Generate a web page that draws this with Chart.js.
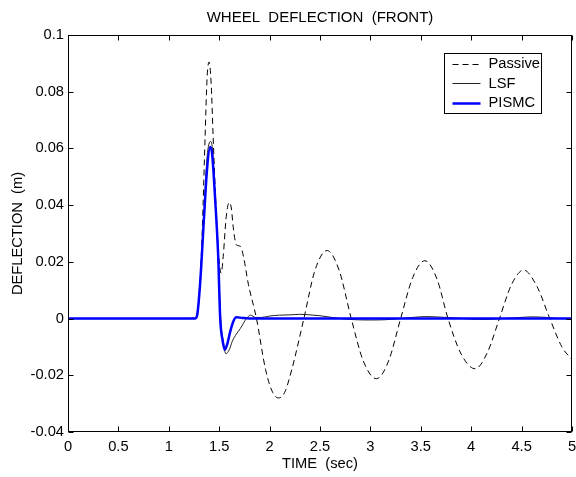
<!DOCTYPE html>
<html><head><meta charset="utf-8">
<script src="https://cdn.jsdelivr.net/npm/chart.js@4/dist/chart.umd.min.js"></script>
<style>html,body{margin:0;padding:0;background:#fff}#wrap{width:576px;height:477px}</style>
</head><body><div id="wrap"><canvas id="c" width="576" height="477"></canvas></div>
<script>
const title = "WHEEL  DEFLECTION  (FRONT)";
const xTitle = "TIME  (sec)";
const yTitle = "DEFLECTION  (m)";
const seriesNames = ["Passive", "LSF", "PISMC"];

const passiveT = [0,1.2,1.26,1.29,1.32,1.34,1.36,1.38,1.40,1.42,1.44,1.47,1.50,1.52,1.54,1.57,1.60,1.62,1.64,1.67,1.71,1.74,1.79,1.87,1.96,2.03,2.09,2.15,2.22,2.34,2.45,2.57,2.69,2.81,2.93,3.06,3.18,3.30,3.42,3.54,3.66,3.77,3.90,4.04,4.16,4.28,4.40,4.52,4.65,4.78,4.90,5.0];
const passiveV = [0,0,0.0005,0.003,0.02,0.04,0.064,0.085,0.0905,0.083,0.064,0.038,0.02,0.016,0.022,0.036,0.041,0.039,0.032,0.026,0.0255,0.022,0.012,0,-0.018,-0.026,-0.028,-0.026,-0.018,0,0.017,0.024,0.017,0,-0.015,-0.0212,-0.015,0,0.0145,0.0204,0.014,0,-0.0125,-0.0177,-0.012,0,0.012,0.0171,0.0115,0,-0.010,-0.0145];

const lsfT = [0,1.26,1.28,1.31,1.35,1.38,1.415,1.435,1.46,1.49,1.515,1.545,1.565,1.60,1.63,1.67,1.71,1.77,1.81,1.86,1.92,2.0,2.1,2.2,2.3,2.4,2.5,2.6,2.7,2.85,3.0,3.15,3.3,3.45,3.55,3.7,3.85,4.0,4.15,4.3,4.45,4.6,4.75,4.9,5.0];
const lsfV = [0,0,0.001,0.013,0.038,0.057,0.0625,0.059,0.042,0.022,0,-0.009,-0.0124,-0.011,-0.008,-0.0055,-0.0035,0,0.0012,0.0004,0.0004,0.0009,0.0012,0.0013,0.0015,0.0013,0.001,0.0005,0,-0.0004,-0.0005,-0.0004,0,0.0005,0.0007,0.0005,0.0002,-0.0002,-0.0003,0,0.0003,0.0006,0.0004,0,0];

const pismcT = [0,1.26,1.28,1.31,1.35,1.38,1.41,1.43,1.46,1.49,1.51,1.535,1.555,1.58,1.61,1.64,1.67,1.73,1.8,5.0];
const pismcV = [0,0,0.001,0.012,0.036,0.053,0.0605,0.058,0.042,0.022,0,-0.008,-0.011,-0.009,-0.0045,-0.001,0.0005,0.0002,0,0];

const xTicks = [0,0.5,1,1.5,2,2.5,3,3.5,4,4.5,5];
const yTicks = [-0.04,-0.02,0,0.02,0.04,0.06,0.08,0.1];

const toXY = (t, v) => t.map((x, i) => ({x: x, y: v[i]}));
const FONT = "'Liberation Sans', Arial, sans-serif";
const FS = 14.7;

const frameTicks = {
  id: 'frameTicks',
  afterDraw(chart) {
    const {ctx, chartArea: a, scales} = chart;
    ctx.save();
    ctx.fillStyle = '#000';
    ctx.font = "15px " + FONT;
    ctx.textAlign = 'center';
    ctx.textBaseline = 'middle';
    ctx.fillText(title, (a.left + a.right) / 2, 17.5);

    ctx.strokeStyle = '#000';
    ctx.lineWidth = 1;
    const L = Math.round(a.left) + 0.5, R = Math.round(a.right) - 0.5;
    const T = Math.round(a.top) + 0.5, B = Math.round(a.bottom) - 0.5;
    ctx.strokeRect(L, T, R - L, B - T);
    const len = 5;
    ctx.beginPath();
    xTicks.forEach(v => {
      const p = Math.round(scales.x.getPixelForValue(v)) + 0.5;
      ctx.moveTo(p, B); ctx.lineTo(p, B - len);
      ctx.moveTo(p, T); ctx.lineTo(p, T + len);
    });
    yTicks.forEach(v => {
      const p = Math.round(scales.y.getPixelForValue(v)) + 0.5;
      ctx.moveTo(L, p); ctx.lineTo(L + len, p);
      ctx.moveTo(R, p); ctx.lineTo(R - len, p);
    });
    ctx.stroke();
    const bx = Math.round(a.right) - 128 + 0.5, by = Math.round(a.top) + 18 + 0.5, bw = 97, bh = 60;
    ctx.fillStyle = '#fff';
    ctx.fillRect(bx, by, bw, bh);
    ctx.strokeStyle = '#000';
    ctx.strokeRect(bx, by, bw, bh);
    ctx.font = FS + "px " + FONT;
    ctx.textBaseline = 'middle';
    ctx.textAlign = 'left';
    chart.data.datasets.forEach((ds, i) => {
      const yy = by + 10 + i * 19.5;
      ctx.save();
      ctx.strokeStyle = ds.borderColor;
      ctx.lineWidth = ds.borderWidth;
      ctx.setLineDash(ds.borderDash || []);
      ctx.beginPath();
      ctx.moveTo(bx + 8, Math.round(yy) + 0.5);
      ctx.lineTo(bx + 36, Math.round(yy) + 0.5);
      ctx.stroke();
      ctx.restore();
      ctx.fillStyle = '#000';
      ctx.fillText(ds.label, bx + 44, yy + 0.5);
    });
    ctx.restore();
  }
};

new Chart(document.getElementById('c'), {
  type: 'line',
  data: {
    datasets: [
      {label: seriesNames[0], data: toXY(passiveT, passiveV), borderColor: '#000', borderWidth: 1, borderDash: [6, 4], pointRadius: 0, cubicInterpolationMode: 'monotone', order: 2},
      {label: seriesNames[1], data: toXY(lsfT, lsfV), borderColor: '#222', borderWidth: 1, pointRadius: 0, cubicInterpolationMode: 'monotone', order: 1},
      {label: seriesNames[2], data: toXY(pismcT, pismcV), borderColor: '#0000ff', borderWidth: 2.5, pointRadius: 0, cubicInterpolationMode: 'monotone', order: 0}
    ]
  },
  options: {
    responsive: false,
    animation: false,
    devicePixelRatio: 1,
    layout: {padding: {left: 0, right: 4, top: 35, bottom: 0}},
    plugins: {
      legend: {display: false},
      tooltip: {enabled: false},
      title: {display: false}
    },
    scales: {
      x: {
        type: 'linear', min: 0, max: 5,
        afterBuildTicks: s => { s.ticks = xTicks.map(v => ({value: v})); },
        afterFit: s => { s.height = 45; s.paddingLeft = 0; s.paddingRight = 0; },
        grid: {display: false, drawTicks: false},
        border: {display: false},
        ticks: {color: '#000', padding: 6, maxRotation: 0, autoSkip: false, font: {family: FONT, size: FS}, callback: v => String(v)},
        title: {display: true, text: xTitle, color: '#000', font: {family: FONT, size: FS}, padding: {top: 0, bottom: 4}}
      },
      y: {
        type: 'linear', min: -0.04, max: 0.1,
        afterBuildTicks: s => { s.ticks = yTicks.map(v => ({value: v})); },
        afterFit: s => { s.width = 68; s.paddingTop = 0; s.paddingBottom = 0; },
        grid: {display: false, drawTicks: false},
        border: {display: false},
        ticks: {color: '#000', padding: 4, autoSkip: false, font: {family: FONT, size: FS}, callback: v => String(Number(v.toFixed(2)))},
        title: {display: true, text: yTitle, color: '#000', font: {family: FONT, size: FS}, padding: {top: 8.7, bottom: 0}}
      }
    }
  },
  plugins: [frameTicks]
});
</script></body></html>
